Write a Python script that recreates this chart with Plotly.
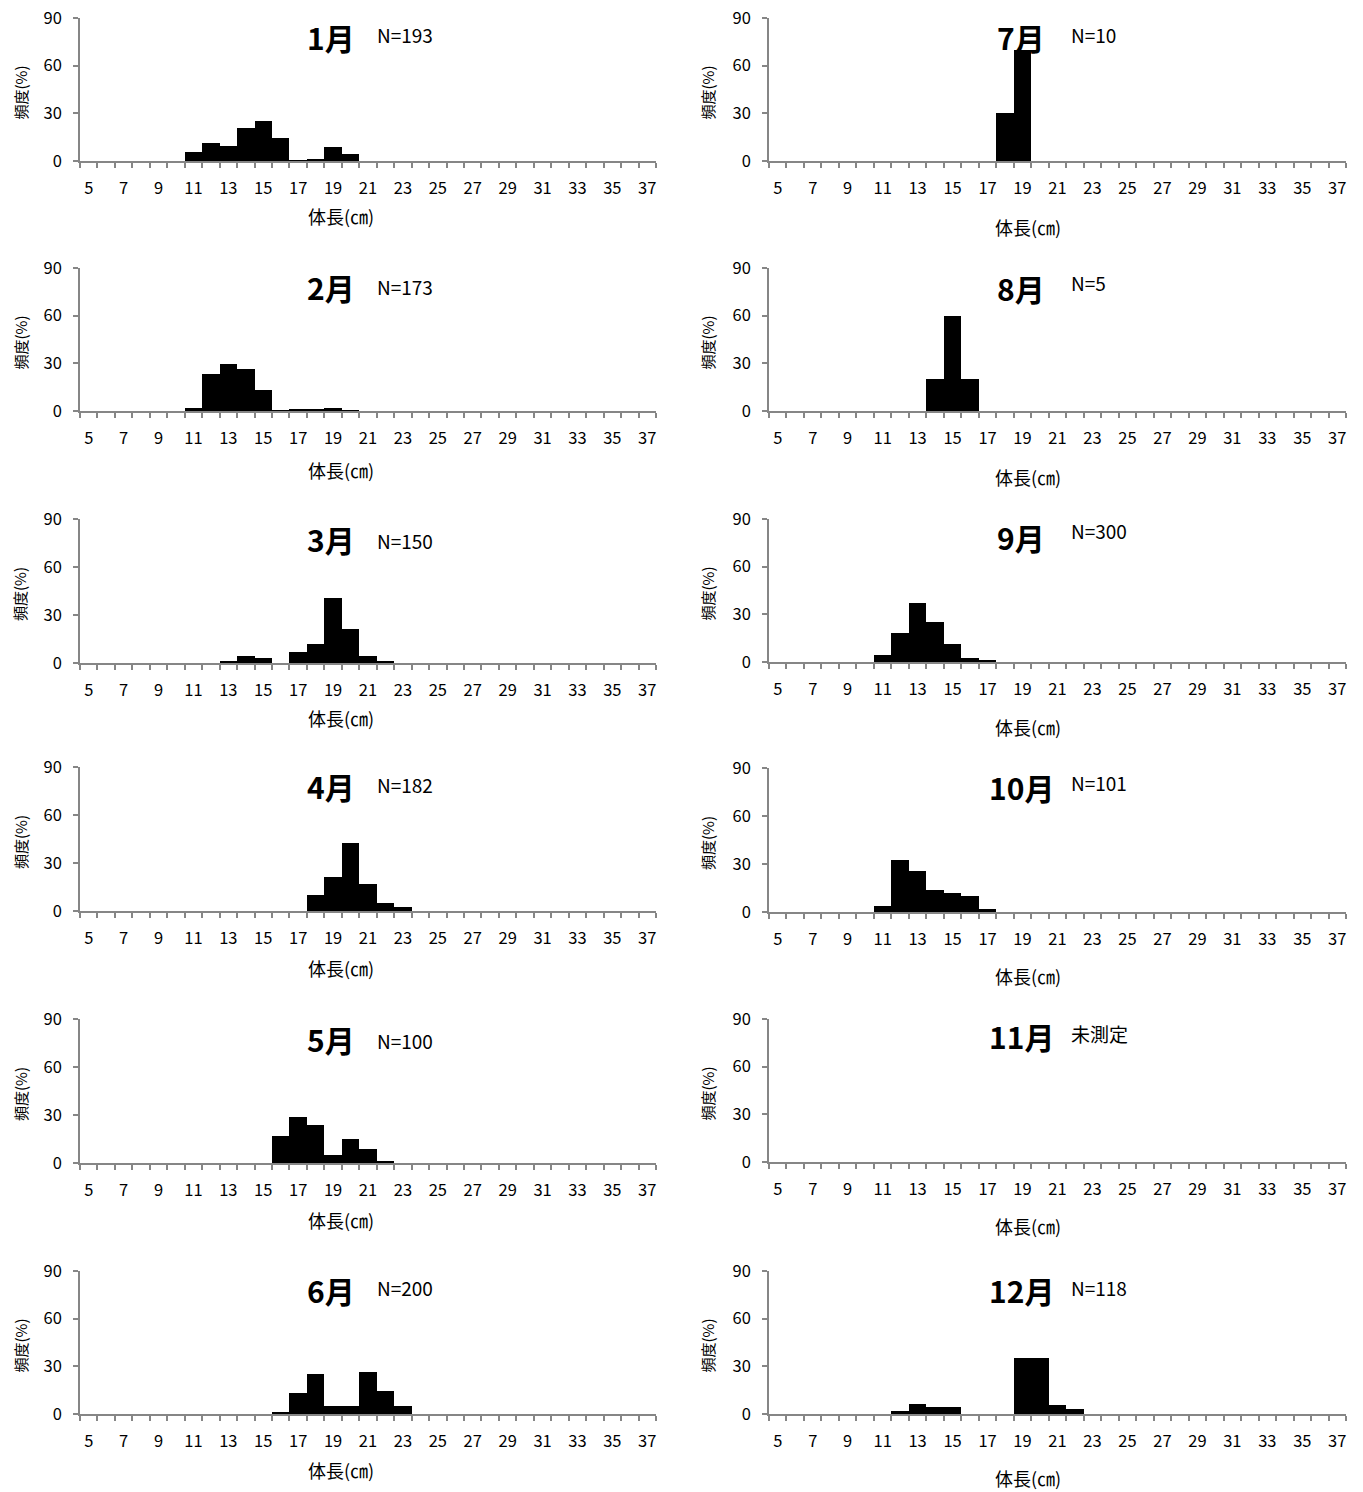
import plotly.graph_objects as go

W, H = 1363, 1492

# ---------------- data ----------------
months = ["1月", "2月", "3月", "4月", "5月", "6月",
          "7月", "8月", "9月", "10月", "11月", "12月"]
n_labels = ["N=193", "N=173", "N=150", "N=182", "N=100", "N=200",
            "N=10", "N=5", "N=300", "N=101", "未測定", "N=118"]
x_ticks = list(range(5, 38, 2))

jan_len = [11, 12, 13, 14, 15, 16, 17, 18, 19, 20]
jan_pct = [5.6, 11.6, 9.4, 21.0, 25.0, 14.3, 0.5, 1.0, 8.7, 4.6]
feb_len = [11, 12, 13, 14, 15, 16, 17, 18, 19, 20]
feb_pct = [1.7, 23.6, 29.3, 26.6, 13.2, 0.5, 1.1, 1.1, 1.7, 0.6]
mar_len = [13, 14, 15, 17, 18, 19, 20, 21, 22]
mar_pct = [1.3, 4.5, 3.2, 7.0, 11.7, 40.8, 21.2, 4.5, 1.5]
apr_len = [18, 19, 20, 21, 22, 23]
apr_pct = [9.8, 21.1, 42.7, 16.9, 4.8, 2.7]
may_len = [16, 17, 18, 19, 20, 21, 22]
may_pct = [17, 29, 24, 5, 15, 9, 0.7]
jun_len = [16, 17, 18, 19, 20, 21, 22, 23]
jun_pct = [0.8, 13.2, 25.1, 5.2, 4.8, 26.6, 14.6, 5.2]
jul_len = [18, 19]
jul_pct = [30, 70]
aug_len = [14, 15, 16]
aug_pct = [20, 60, 20]
sep_len = [11, 12, 13, 14, 15, 16, 17]
sep_pct = [4.6, 18.0, 37.4, 25.3, 11.3, 2.7, 0.8]
oct_len = [11, 12, 13, 14, 15, 16, 17]
oct_pct = [4.0, 32.7, 25.7, 13.9, 11.9, 9.9, 2.0]
nov_len = []
nov_pct = []
dec_len = [12, 13, 14, 15, 19, 20, 21, 22]
dec_pct = [2.1, 6.5, 4.2, 4.2, 35.4, 35.4, 5.6, 3.1]

series = [(jan_len, jan_pct), (feb_len, feb_pct), (mar_len, mar_pct),
          (apr_len, apr_pct), (may_len, may_pct), (jun_len, jun_pct),
          (jul_len, jul_pct), (aug_len, aug_pct), (sep_len, sep_pct),
          (oct_len, oct_pct), (nov_len, nov_pct), (dec_len, dec_pct)]

# ---------------- layout geometry (pixels) ----------------
col_x = [(80, 656), (769, 1346)]
rows_left = [(18, 161), (268, 411), (519, 663), (767, 911), (1019, 1163), (1271, 1414)]
rows_right = [(18, 161), (268, 411), (519, 662), (768, 912), (1019, 1162), (1271, 1414)]
xtitle_y_left = [216, 470, 718, 968, 1220, 1470]
xtitle_y_right = [227, 477, 727, 976, 1226, 1478]
month_y_left = [37, 287, 539, 786, 1039, 1290]
month_y_right = [37, 288, 537, 787, 1036, 1290]
n_y_left = [35, 286, 540, 784, 1040, 1287]
n_y_right = [34, 282, 531, 783, 1033, 1287]

FONT = "Noto Sans CJK JP"
AX = "#868686"


def px(x):
    return x / W


def py(y):
    return 1 - y / H


fig = go.Figure()
annotations = []
layout = {}

for i in range(12):
    col = 0 if i < 6 else 1
    r = i % 6
    x0, x1 = col_x[col]
    top, bot = (rows_left if col == 0 else rows_right)[r]
    k = i + 1
    xa = "x" if k == 1 else f"x{k}"
    ya = "y" if k == 1 else f"y{k}"
    xs, ys = series[i]
    fig.add_trace(go.Bar(x=xs, y=ys, width=1, marker=dict(color="black", line=dict(width=0)),
                         xaxis=xa, yaxis=ya, showlegend=False))
    xkey = "xaxis" if k == 1 else f"xaxis{k}"
    ykey = "yaxis" if k == 1 else f"yaxis{k}"
    layout[xkey] = dict(
        domain=[px(x0), px(x1)], anchor=ya, range=[4.5, 37.5],
        tickmode="array", tickvals=x_ticks, ticks="", showgrid=False, zeroline=False,
        showline=True, linecolor=AX, linewidth=1.5,
        tickfont=dict(family=FONT, size=16.5, color="black"),
        ticklabelstandoff=11, automargin=False,
        minor=dict(tickmode="linear", tick0=4.5, dtick=1, ticks="outside",
                   ticklen=5, tickcolor=AX, tickwidth=1.5, showgrid=False),
        fixedrange=True,
    )
    layout[ykey] = dict(
        domain=[py(bot), py(top)], anchor=xa, range=[0, 90],
        tickmode="array", tickvals=[0, 30, 60, 90], ticks="outside", ticklen=5,
        tickcolor=AX, tickwidth=1.5, showgrid=False, zeroline=False,
        showline=True, linecolor=AX, linewidth=1.5,
        tickfont=dict(family=FONT, size=16.5, color="black"),
        ticklabelstandoff=8, automargin=False, fixedrange=True,
    )
    # month title
    mx = 331 if col == 0 else 1021
    annotations.append(dict(text=f"<b>{months[i]}</b>", x=px(mx), y=py((month_y_left if col == 0 else month_y_right)[r]),
                            xref="paper", yref="paper", showarrow=False, xanchor="center", yanchor="middle",
                            font=dict(family=FONT, size=30, color="black")))
    nx = 375 if col == 0 else 1069
    annotations.append(dict(text=n_labels[i], x=px(nx), y=py((n_y_left if col == 0 else n_y_right)[r]),
                            xref="paper", yref="paper", showarrow=False, xanchor="left", yanchor="middle",
                            font=dict(family=FONT, size=19, color="black")))
    # x axis title
    tx = 341 if col == 0 else 1028
    annotations.append(dict(text="体長(㎝)", x=px(tx), y=py((xtitle_y_left if col == 0 else xtitle_y_right)[r]),
                            xref="paper", yref="paper", showarrow=False, xanchor="center", yanchor="middle",
                            font=dict(family=FONT, size=18, color="black")))
    # y axis title
    yx = 20 if col == 0 else 707
    annotations.append(dict(text="頻度(%)", x=px(yx), y=py((top + bot) / 2 + 3),
                            xref="paper", yref="paper", showarrow=False, xanchor="center", yanchor="middle",
                            textangle=-90, font=dict(family=FONT, size=15, color="black")))

fig.update_layout(
    width=W, height=H, margin=dict(l=0, r=0, t=0, b=0, pad=0, autoexpand=False),
    paper_bgcolor="white", plot_bgcolor="white",
    bargap=0, barmode="overlay", annotations=annotations,
    font=dict(family=FONT, color="black"),
    **layout,
)

fig.write_html("out.html", config={"displayModeBar": False},
               post_script="document.body.style.margin='0px';")
